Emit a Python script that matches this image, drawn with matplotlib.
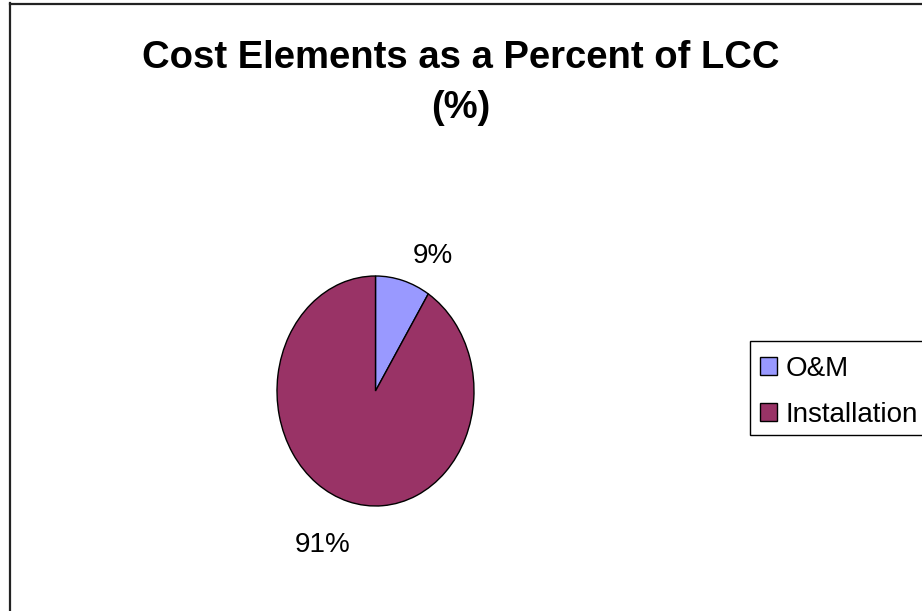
import matplotlib
matplotlib.use("Agg")
import matplotlib.pyplot as plt
from matplotlib.lines import Line2D
from matplotlib.patches import Patch, Rectangle

# ----------------------------------------------------------------
# DATA
# ----------------------------------------------------------------
CATEGORIES = ["O&M", "Installation"]
SHARES = [9, 91]                      # percent of life-cycle cost
COLORS = ["#9999FF", "#993366"]
TITLE = "Cost Elements as a Percent of LCC\n(%)"

W, H = 922, 611
plt.rcParams["font.family"] = ["Liberation Sans", "DejaVu Sans"]

fig = plt.figure(figsize=(W / 100, H / 100), dpi=100)
fig.patch.set_facecolor("white")

# chart-area frame (only the top and left edges fall inside the canvas)
fig.add_artist(Line2D([9.5 / W, 9.5 / W], [0, 1 - 3 / H], color="#222222", lw=1.6))
fig.add_artist(Line2D([9.5 / W, 1], [1 - 3.5 / H, 1 - 3.5 / H], color="#222222", lw=1.6))

fig.text(461 / W, 1 - 83 / H, TITLE, ha="center", va="center",
         weight="bold", fontsize=27.5, linespacing=1.48)

# pie drawn in a non-square box so it comes out as an upright ellipse
ax = fig.add_axes([277 / W, 1 - 506 / H, 197 / W, 230 / H])
wedges, _ = ax.pie(SHARES, colors=COLORS, startangle=90, counterclock=False,
                   wedgeprops=dict(edgecolor="black", linewidth=1.0))
ax.set_aspect("auto")
ax.set_xlim(-1, 1)
ax.set_ylim(-1, 1)
ax.axis("off")

# value labels outside the wedges
label_pos = [(0.585, 1.17), (-0.535, -1.34)]
for share, (lx, ly) in zip(SHARES, label_pos):
    ax.text(lx, ly, f"{share}%", ha="center", va="center", fontsize=20,
            clip_on=False)

# legend box drawn separately so its padding can be set freely
fig.add_artist(Rectangle((750 / W, 1 - 435 / H), 180 / W, 94 / H,
                         transform=fig.transFigure, facecolor="white",
                         edgecolor="black", linewidth=1.0))
handles = [Patch(facecolor=c, edgecolor="black", linewidth=1.0) for c in COLORS]
leg = fig.legend(handles, CATEGORIES, loc="upper left",
                 bbox_to_anchor=(760 / W, 1 - 356 / H), fontsize=20,
                 frameon=False, handlelength=0.62, handleheight=0.62,
                 handletextpad=0.3, borderpad=0, labelspacing=0.71,
                 borderaxespad=0)

fig.savefig("out.png", dpi=100, facecolor="white")
